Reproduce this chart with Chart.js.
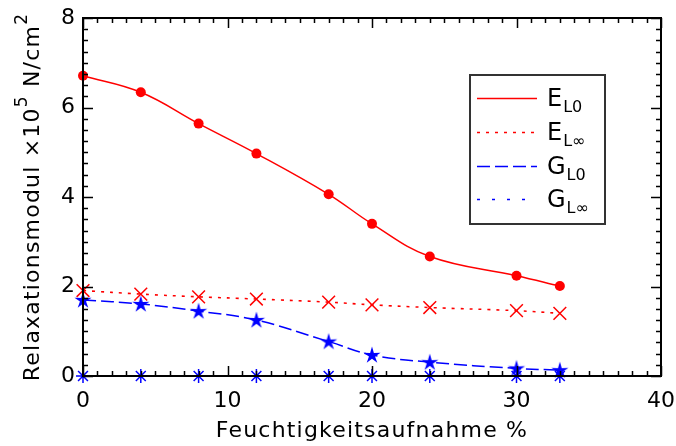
<!DOCTYPE html>
<html>
<head>
<meta charset="utf-8">
<script src="https://cdn.jsdelivr.net/npm/chart.js@4"></script>
<style>
    html, body { margin: 0; padding: 0; background: #fff; }
    #wrap { width: 676px; height: 446px; position: relative; }
</style>
</head>
<body>
<div id="wrap"><canvas id="grafico"></canvas></div>
<script>
//*************  Dados  ****************/
// Feuchtigkeitsaufnahme in %
const feuchte = [0, 4, 8, 12, 17, 20, 24, 30, 33]

// Relaxationsmodul x10^5 N/cm^2
const E_L0   = [6.71, 6.34, 5.64, 4.97, 4.06, 3.40, 2.67, 2.24, 2.01]
const E_Linf = [1.91, 1.83, 1.77, 1.72, 1.65, 1.59, 1.53, 1.46, 1.40]
const G_L0   = [1.70, 1.61, 1.45, 1.25, 0.77, 0.47, 0.31, 0.17, 0.13]
const G_Linf = [0, 0, 0, 0, 0, 0, 0, 0, 0]

const xTicks = [0, 10, 20, 30, 40]
const yTicks = [0, 2, 4, 6, 8]

const ROT = "#ff0000"
const BLAU = "#0000ff"
const FONT = "'DejaVu Sans', sans-serif"

// punkte als {x, y}
function paare(ys){
    return feuchte.map((x, i) => ({x: x, y: ys[i]}))
}

// gefuellter stern fuer G_L0
function sternBild(){
    let c = document.createElement("canvas")
    c.width = 20
    c.height = 20
    let g = c.getContext("2d")
    g.fillStyle = BLAU
    g.beginPath()
    for(let k = 0; k < 10; k++){
        let r = (k % 2 == 0) ? 9 : 3.2
        let a = -Math.PI / 2 + k * Math.PI / 5
        let px = 10 + r * Math.cos(a)
        let py = 10.5 + r * Math.sin(a)
        if(k == 0) g.moveTo(px, py)
        else g.lineTo(px, py)
    }
    g.closePath()
    g.fill()
    return c
}

//*************  Rahmen und Striche nach innen  ****************/
const rahmenPlugin = {
    id: "rahmen",
    afterDatasetsDraw(chart){
        let ctx = chart.ctx
        let a = chart.chartArea
        let xs = chart.scales.x
        let ys = chart.scales.y
        ctx.save()
        ctx.strokeStyle = "#000"
        ctx.lineWidth = 1.5

        // x-achse: kleine striche jede einheit, grosse alle 10
        for(let v = 0; v <= 40; v++){
            let px = Math.round(xs.getPixelForValue(v)) + 0.5
            let len = (v % 10 == 0) ? 10 : 5
            ctx.beginPath()
            ctx.moveTo(px, a.bottom)
            ctx.lineTo(px, a.bottom - len)
            ctx.moveTo(px, a.top)
            ctx.lineTo(px, a.top + len)
            ctx.stroke()
        }
        // y-achse: kleine striche alle 0.25, grosse alle 2
        for(let k = 0; k <= 32; k++){
            let v = k * 0.25
            let py = Math.round(ys.getPixelForValue(v)) + 0.5
            let len = (k % 8 == 0) ? 10 : 5
            ctx.beginPath()
            ctx.moveTo(a.left, py)
            ctx.lineTo(a.left + len, py)
            ctx.moveTo(a.right, py)
            ctx.lineTo(a.right - len, py)
            ctx.stroke()
        }
        ctx.lineWidth = 2
        ctx.strokeRect(a.left, a.top, a.right - a.left, a.bottom - a.top)
        ctx.restore()
    }
}

//*************  Achsentitel (mit hochgestellten zahlen)  ****************/
const titelPlugin = {
    id: "titel",
    afterDraw(chart){
        let ctx = chart.ctx
        let a = chart.chartArea
        ctx.save()
        ctx.fillStyle = "#000"
        ctx.textBaseline = "alphabetic"
        ctx.letterSpacing = "1.2px"

        // x-titel
        ctx.font = "22px " + FONT
        ctx.textAlign = "center"
        ctx.fillText("Feuchtigkeitsaufnahme %", (a.left + a.right) / 2, 437)

        // y-titel, gedreht
        let teile = [
            {t: "Relaxationsmodul ×10", s: 22, dy: 0},
            {t: "5", s: 17, dy: -12},
            {t: " N/cm", s: 22, dy: 0},
            {t: "2", s: 17, dy: -12}
        ]
        let breite = 0
        teile.forEach(p => {
            ctx.font = p.s + "px " + FONT
            breite += ctx.measureText(p.t).width
        })
        ctx.translate(39, 197)
        ctx.rotate(-Math.PI / 2)
        ctx.textAlign = "left"
        let x0 = -breite / 2
        teile.forEach(p => {
            ctx.font = p.s + "px " + FONT
            ctx.fillText(p.t, x0, p.dy)
            x0 += ctx.measureText(p.t).width
        })
        ctx.restore()
    }
}

//*************  Legende im kasten  ****************/
const legendePlugin = {
    id: "legende",
    afterDraw(chart){
        let ctx = chart.ctx
        let box = {x: 470, y: 75, w: 135, h: 149}
        ctx.save()
        ctx.fillStyle = "#fff"
        ctx.fillRect(box.x, box.y, box.w, box.h)
        ctx.strokeStyle = "#333"
        ctx.lineWidth = 2
        ctx.strokeRect(box.x, box.y, box.w, box.h)

        let eintraege = [
            {haupt: "E", sub: "L0", ds: 0},
            {haupt: "E", sub: "L\u221e", ds: 1},
            {haupt: "G", sub: "L0", ds: 2},
            {haupt: "G", sub: "L\u221e", ds: 3}
        ]
        let zeilenY = [98, 132, 166, 199]
        eintraege.forEach((e, i) => {
            let ds = chart.data.datasets[e.ds]
            let yy = zeilenY[i] + 0.5
            ctx.strokeStyle = ds.borderColor
            ctx.lineWidth = ds.borderWidth
            ctx.setLineDash(ds.borderDash || [])
            ctx.beginPath()
            ctx.moveTo(477, yy)
            ctx.lineTo(537, yy)
            ctx.stroke()
            ctx.setLineDash([])

            ctx.fillStyle = "#000"
            ctx.textAlign = "left"
            ctx.textBaseline = "alphabetic"
            ctx.font = "24px " + FONT
            ctx.fillText(e.haupt, 547, yy + 7)
            let w = ctx.measureText(e.haupt).width
            ctx.font = "16px " + FONT
            ctx.fillText(e.sub, 548 + w, yy + 13)
        })
        ctx.restore()
    }
}

const GP = document.getElementById("grafico")

new Chart(GP, {
    type: "line",
    data: {
        datasets: [
            {
                label: "E_L0",
                data: paare(E_L0),
                borderColor: ROT,
                backgroundColor: ROT,
                borderWidth: 1.5,
                pointStyle: "circle",
                pointRadius: 5,
                pointBorderWidth: 0,
                tension: 0.4,
                clip: false
            },
            {
                label: "E_Linf",
                data: paare(E_Linf),
                borderColor: ROT,
                backgroundColor: ROT,
                borderWidth: 1.6,
                borderDash: [3, 6],
                pointStyle: "crossRot",
                pointRadius: 9,
                pointBorderWidth: 1.5,
                tension: 0.4,
                clip: false
            },
            {
                label: "G_L0",
                data: paare(G_L0),
                borderColor: BLAU,
                backgroundColor: BLAU,
                borderWidth: 1.5,
                borderDash: [13, 5],
                pointStyle: sternBild(),
                tension: 0.4,
                clip: false
            },
            {
                label: "G_Linf",
                data: paare(G_Linf),
                borderColor: BLAU,
                backgroundColor: BLAU,
                borderWidth: 1.6,
                borderDash: [3, 12],
                pointStyle: "star",
                pointRadius: 7,
                pointBorderWidth: 1.5,
                clip: false
            }
        ]
    },
    options: {
        responsive: true,
        maintainAspectRatio: false,
        animation: false,
        layout: { padding: { left: 0, right: 15, top: 18, bottom: 0 } },
        plugins: {
            legend: { display: false },
            tooltip: { enabled: false }
        },
        scales: {
            x: {
                type: "linear",
                min: 0,
                max: 40,
                afterBuildTicks: s => { s.ticks = xTicks.map(v => ({value: v})) },
                afterFit: s => { s.height = 70; s.paddingLeft = 0; s.paddingRight = 0 },
                grid: { display: false, drawTicks: false },
                border: { display: false },
                ticks: {
                    padding: 12,
                    color: "#000",
                    font: { family: FONT, size: 22 }
                }
            },
            y: {
                type: "linear",
                min: 0,
                max: 8,
                afterBuildTicks: s => { s.ticks = yTicks.map(v => ({value: v})) },
                afterFit: s => { s.width = 83; s.paddingTop = 0; s.paddingBottom = 0 },
                grid: { display: false, drawTicks: false },
                border: { display: false },
                ticks: {
                    padding: 8,
                    color: "#000",
                    font: { family: FONT, size: 22 }
                }
            }
        }
    },
    plugins: [rahmenPlugin, titelPlugin, legendePlugin]
})
</script>
</body>
</html>
